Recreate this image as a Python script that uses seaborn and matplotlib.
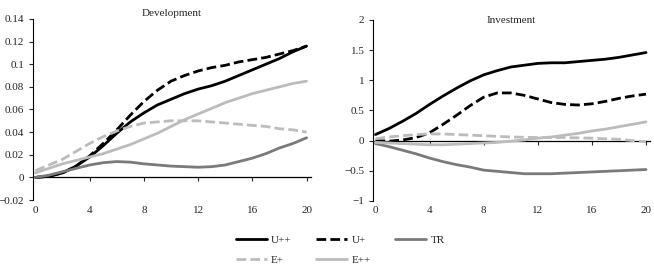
import numpy as np
import pandas as pd
import matplotlib
matplotlib.use("Agg")
import matplotlib.pyplot as plt
import seaborn as sns

horizon = list(range(21))

# Development responses
dev_upp = [0.000, 0.001, 0.004, 0.010, 0.018, 0.028, 0.039, 0.049, 0.057, 0.064, 0.069,
           0.074, 0.078, 0.081, 0.085, 0.090, 0.095, 0.100, 0.105, 0.111, 0.116]
dev_up = [0.000, 0.001, 0.004, 0.010, 0.019, 0.030, 0.042, 0.055, 0.067, 0.077, 0.085,
          0.090, 0.094, 0.097, 0.099, 0.102, 0.104, 0.106, 0.109, 0.112, 0.116]
dev_tr = [0.000, 0.002, 0.005, 0.008, 0.011, 0.013, 0.014, 0.0135, 0.012, 0.011, 0.010,
          0.0095, 0.009, 0.0095, 0.011, 0.014, 0.017, 0.021, 0.026, 0.030, 0.035]
dev_ep = [0.006, 0.011, 0.016, 0.023, 0.030, 0.036, 0.041, 0.045, 0.048, 0.049, 0.050,
          0.050, 0.050, 0.049, 0.048, 0.047, 0.046, 0.045, 0.043, 0.042, 0.040]
dev_epp = [0.004, 0.008, 0.012, 0.015, 0.018, 0.021, 0.025, 0.029, 0.034, 0.039, 0.045,
           0.051, 0.056, 0.061, 0.066, 0.070, 0.074, 0.077, 0.080, 0.083, 0.085]

# Investment responses
inv_upp = [0.10, 0.20, 0.32, 0.45, 0.60, 0.74, 0.87, 0.99, 1.09, 1.16, 1.22,
           1.25, 1.28, 1.29, 1.29, 1.31, 1.33, 1.35, 1.38, 1.42, 1.46]
inv_up = [0.00, -0.01, 0.01, 0.05, 0.13, 0.27, 0.42, 0.58, 0.72, 0.79, 0.79,
          0.75, 0.69, 0.63, 0.60, 0.59, 0.61, 0.65, 0.70, 0.74, 0.77]
inv_tr = [-0.05, -0.10, -0.16, -0.22, -0.29, -0.35, -0.40, -0.44, -0.49, -0.51, -0.53,
          -0.55, -0.55, -0.55, -0.54, -0.53, -0.52, -0.51, -0.50, -0.49, -0.48]
inv_ep = [0.03, 0.06, 0.08, 0.10, 0.11, 0.11, 0.10, 0.09, 0.08, 0.07, 0.06,
          0.055, 0.05, 0.05, 0.05, 0.045, 0.04, 0.03, 0.02, 0.00, -0.02]
inv_epp = [-0.03, -0.04, -0.05, -0.06, -0.07, -0.07, -0.06, -0.05, -0.04, -0.03, -0.01,
           0.01, 0.04, 0.06, 0.09, 0.12, 0.16, 0.19, 0.23, 0.27, 0.31]

names = ["U++", "U+", "TR", "E+", "E++"]
colors = ["black", "black", "#7a7a7a", "#bcbcbc", "#bcbcbc"]
styles = ["-", (0, (3.5, 1.5)), "-", (0, (3.5, 1.5)), "-"]

sns.set_style("white")
plt.rcParams["font.family"] = ["Liberation Serif", "DejaVu Serif"]
plt.rcParams["font.size"] = 8

fig = plt.figure(figsize=(6.54, 2.70), dpi=100)
ax1 = fig.add_axes([0.050, 0.259, 0.425, 0.671])
ax2 = fig.add_axes([0.570, 0.256, 0.424, 0.670])

panels = [
    (ax1, [dev_upp, dev_up, dev_tr, dev_ep, dev_epp], (-0.02, 0.14), np.arange(-0.02, 0.141, 0.02), "Development"),
    (ax2, [inv_upp, inv_up, inv_tr, inv_ep, inv_epp], (-1, 2), np.arange(-1, 2.01, 0.5), "Investment"),
]

handles = []
for ax, series, ylim, yticks, title in panels:
    for vals, name, c, ls in zip(series, names, colors, styles):
        sns.lineplot(x=horizon, y=vals, ax=ax, color=c, lw=2.0, label=name)
        ax.lines[-1].set_linestyle(ls)
    ax.get_legend().remove()
    ax.set_ylim(*ylim)
    ax.set_yticks(yticks)
    ax.set_yticklabels([f"{t:g}".replace("-", "\u2212") for t in yticks])
    ax.set_xlim(-0.2, 20.3)
    ax.set_xticks(range(0, 21, 4))
    ax.tick_params(axis="x", length=0, pad=4)
    ax.tick_params(axis="y", length=3, width=0.8, direction="out", left=True, pad=3)
    for s in ["top", "right", "bottom"]:
        ax.spines[s].set_visible(False)
    ax.spines["left"].set_color("black")
    ax.spines["left"].set_linewidth(0.8)
    # zero axis with tick marks
    zero_pos = (0 - ylim[0]) / (ylim[1] - ylim[0])
    sec = ax.secondary_xaxis(zero_pos)
    sec.set_xticks(range(4, 21, 4))
    sec.tick_params(length=3, width=0.8, labelbottom=False, labeltop=False, direction="out")
    sec.spines["bottom"].set_color("black")
    sec.spines["bottom"].set_linewidth(0.9)
    ax.set_xlabel("")
    ax.set_ylabel("")

ax1.text(0.5, 1.03, "Development", transform=ax1.transAxes, ha="center", va="center", fontsize=8)
ax2.text(0.5, 0.995, "Investment", transform=ax2.transAxes, ha="center", va="center", fontsize=8)

h = ax1.get_lines()[:5]
order = [0, 3, 1, 4, 2]
fig.legend([h[i] for i in order], [names[i] for i in order], ncol=3, frameon=False,
           loc="upper left", bbox_to_anchor=(0.345, 0.165), handlelength=2.8,
           handletextpad=0.4, columnspacing=2.2, labelspacing=0.9, fontsize=8)

fig.savefig("out.png", dpi=100)
